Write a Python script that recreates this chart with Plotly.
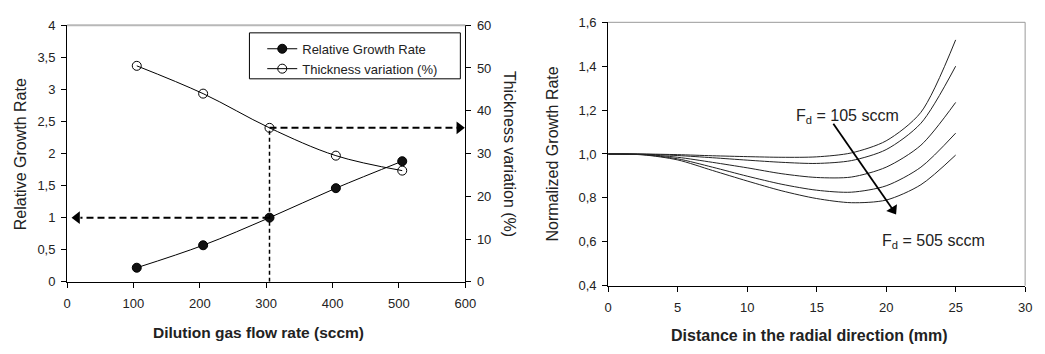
import plotly.graph_objects as go

# Left panel: growth rate and thickness variation vs dilution gas flow
flow_sccm = [105, 205, 305, 405, 505]
relative_growth = [0.22, 0.57, 1.0, 1.46, 1.88]
thickness_var = [50.5, 44.0, 36.0, 29.5, 26.0]

# Right panel: normalized growth-rate profiles along the radius
radius_mm = [0, 2.5, 5, 7.5, 10, 12.5, 15, 17.5, 20, 22.5, 25]
profile_105 = [1.0, 1.0, 0.997, 0.992, 0.988, 0.985, 0.987, 1.005, 1.06, 1.19, 1.52]
profile_205 = [1.0, 0.999, 0.993, 0.983, 0.972, 0.962, 0.957, 0.97, 1.02, 1.14, 1.40]
profile_305 = [1.0, 0.998, 0.985, 0.962, 0.937, 0.91, 0.893, 0.895, 0.94, 1.04, 1.235]
profile_405 = [1.0, 0.997, 0.978, 0.94, 0.899, 0.862, 0.835, 0.826, 0.855, 0.94, 1.095]
profile_505 = [1.0, 0.996, 0.973, 0.925, 0.877, 0.832, 0.797, 0.778, 0.79, 0.86, 0.995]
profiles = [profile_105, profile_205, profile_305, profile_405, profile_505]

W, H = 1045, 354
FONT = "Liberation Sans, Arial, sans-serif"
TEXT_COLOR = "#222222"
TICK_FONT = dict(family=FONT, size=13, color=TEXT_COLOR)


def px_x(p):
    return p / W


def px_y(p):
    return 1 - p / H


fig = go.Figure()

fig.add_trace(go.Scatter(
    x=flow_sccm, y=relative_growth, name="Relative Growth Rate",
    mode="lines+markers", line=dict(color="black", width=1, shape="spline"),
    marker=dict(symbol="circle", size=9, color="#111111", line=dict(color="black", width=1)),
    xaxis="x", yaxis="y",
))
fig.add_trace(go.Scatter(
    x=flow_sccm, y=thickness_var, name="Thickness variation (%)",
    mode="lines+markers", line=dict(color="black", width=1, shape="spline"),
    marker=dict(symbol="circle-open", size=9, color="black", line=dict(width=1)),
    xaxis="x", yaxis="y2",
))

for prof in profiles:
    fig.add_trace(go.Scatter(
        x=radius_mm, y=prof, mode="lines", showlegend=False,
        line=dict(color="#222222", width=1, shape="spline", smoothing=0.8),
        xaxis="x3", yaxis="y3",
    ))

# Dashed guides from the 305 sccm point to both vertical axes
guide_x_left = 20
guide_x_right = 588
fig.add_trace(go.Scatter(
    x=[flow_sccm[2], flow_sccm[2]], y=[0, thickness_var[2]], mode="lines",
    line=dict(color="black", width=1.5, dash="4px,3px"), showlegend=False,
    hoverinfo="skip", xaxis="x", yaxis="y2",
))
fig.add_trace(go.Scatter(
    x=[flow_sccm[2], guide_x_left], y=[relative_growth[2]] * 2, mode="lines",
    line=dict(color="black", width=2, dash="7px,4px"), showlegend=False,
    hoverinfo="skip", xaxis="x", yaxis="y",
))
fig.add_trace(go.Scatter(
    x=[guide_x_left - 5], y=[relative_growth[2]], mode="markers",
    marker=dict(symbol="triangle-left", size=11, color="black"), showlegend=False,
    hoverinfo="skip", xaxis="x", yaxis="y",
))
fig.add_trace(go.Scatter(
    x=[flow_sccm[2], guide_x_right], y=[thickness_var[2]] * 2, mode="lines",
    line=dict(color="black", width=2, dash="7px,4px"), showlegend=False,
    hoverinfo="skip", xaxis="x", yaxis="y2",
))
fig.add_trace(go.Scatter(
    x=[guide_x_right + 3], y=[thickness_var[2]], mode="markers",
    marker=dict(symbol="triangle-right", size=11, color="black"), showlegend=False,
    hoverinfo="skip", xaxis="x", yaxis="y2",
))

# Trend arrow from 105 sccm towards 505 sccm
arrow_x = [16.2, 20.5]
arrow_y = [1.138, 0.745]
fig.add_trace(go.Scatter(
    x=arrow_x, y=arrow_y, mode="lines", line=dict(color="black", width=1.8),
    showlegend=False, hoverinfo="skip", xaxis="x3", yaxis="y3",
))
fig.add_trace(go.Scatter(
    x=[arrow_x[1]], y=[arrow_y[1]], mode="markers",
    marker=dict(symbol="triangle-up", size=11, color="black", angle=147),
    showlegend=False, hoverinfo="skip", xaxis="x3", yaxis="y3",
))

axis_common = dict(
    showline=True, linecolor="black", linewidth=1, ticks="outside", ticklen=5,
    tickcolor="black", tickfont=TICK_FONT, showgrid=False, zeroline=False,
)

L_dom = [px_x(64), px_x(468)]
L_ydom = [px_y(287), px_y(19)]
R_dom = [px_x(613), px_x(1036)]
R_ydom = [px_y(291), px_y(16)]

fig.update_layout(
    width=W, height=H, margin=dict(l=0, r=0, t=0, b=0),
    paper_bgcolor="white", plot_bgcolor="white",
    separators=",.",
    font=dict(family=FONT, color=TEXT_COLOR),
    xaxis=dict(domain=L_dom, range=[0, 600], dtick=100, anchor="y",
               ticklabelstandoff=5, **axis_common),
    yaxis=dict(domain=L_ydom, range=[0, 4], dtick=0.5, anchor="x",
               ticklabelstandoff=3, **axis_common),
    yaxis2=dict(range=[0, 60], dtick=10, overlaying="y", side="right", anchor="x",
                ticklabelstandoff=3, **axis_common),
    xaxis3=dict(domain=R_dom, range=[0, 30], dtick=5, anchor="y3",
                ticklabelstandoff=5, **axis_common),
    yaxis3=dict(domain=R_ydom, range=[0.4, 1.6], dtick=0.2, tickformat=".1f",
                anchor="x3", ticklabelstandoff=3, **axis_common),
    showlegend=True,
    legend=dict(x=px_x(262), y=px_y(28), xanchor="left", yanchor="top",
                bgcolor="rgba(0,0,0,0)", borderwidth=0,
                font=dict(family=FONT, size=13, color=TEXT_COLOR),
                itemwidth=30, tracegroupgap=2),
)

shapes = [
    # legend frame
    dict(type="rect", xref="paper", yref="paper", x0=px_x(249), x1=px_x(463),
         y0=px_y(75), y1=px_y(27), line=dict(color="black", width=1)),
    # top / right frame edges
    dict(type="line", xref="x domain", yref="y domain", x0=0, x1=1, y0=1, y1=1,
         line=dict(color="#b8b8b8", width=2)),
    dict(type="line", xref="x3 domain", yref="y3 domain", x0=0, x1=1, y0=1, y1=1,
         line=dict(color="#9a9a9a", width=1)),
    dict(type="line", xref="x3 domain", yref="y3 domain", x0=1, x1=1, y0=0, y1=1,
         line=dict(color="#9a9a9a", width=1)),
]
fig.update_layout(shapes=shapes)


def label(x, y, text, size, angle=0, xref="paper", yref="paper"):
    return dict(x=x, y=y, xref=xref, yref=yref, text=text, textangle=angle,
                showarrow=False, xanchor="center", yanchor="middle",
                font=dict(family=FONT, size=size, color=TEXT_COLOR))


annotations = [
    label(px_x(17), px_y(154), "Relative Growth Rate", 16, -90),
    label(px_x(513), px_y(153), "Thickness variation (%)", 16, 90),
    label(px_x(258), px_y(340), "<b>Dilution gas flow rate (sccm)</b>", 15.5),
    label(px_x(556), px_y(154), "Normalized Growth Rate", 16, -90),
    label(px_x(817), px_y(343), "<b>Distance in the radial direction (mm)</b>", 16),
    label(17.2, 1.169, "F<sub>d</sub> = 105 sccm", 16, xref="x3", yref="y3"),
    label(23.4, 0.60, "F<sub>d</sub> = 505 sccm", 16, xref="x3", yref="y3"),
]
fig.update_layout(annotations=annotations)

fig.write_html("out.html")
